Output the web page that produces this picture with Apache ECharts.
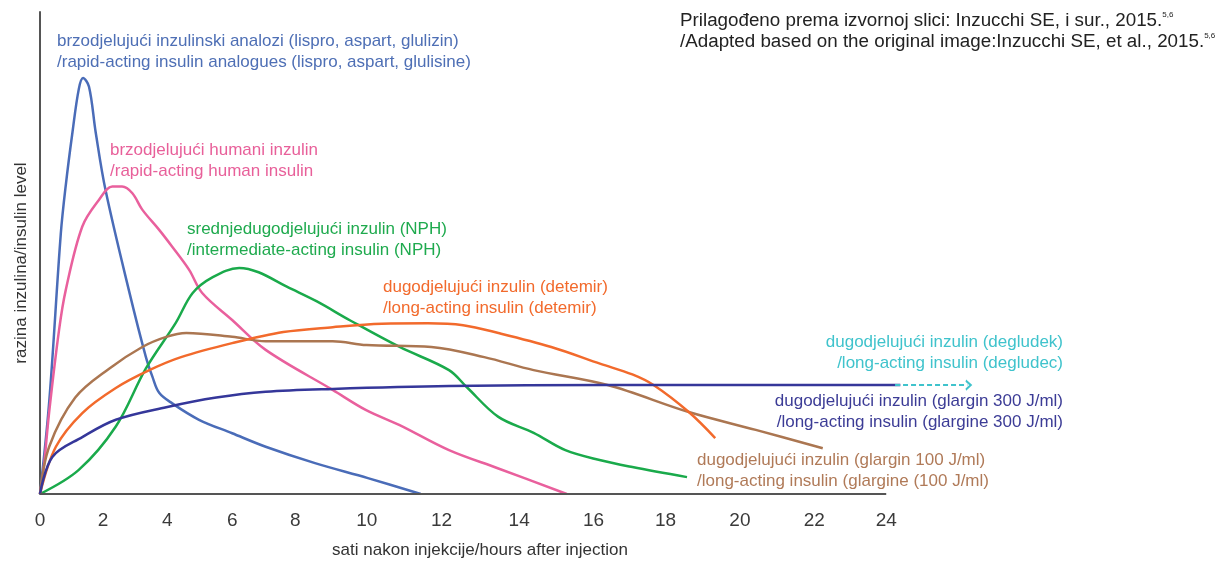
<!DOCTYPE html>
<html>
<head>
<meta charset="utf-8">
<title>Insulin profiles</title>
<script src="https://cdn.jsdelivr.net/npm/echarts@6/dist/echarts.min.js"></script>
<style>
  html, body { margin: 0; padding: 0; background: #fff; }
  #chart { width: 1227px; height: 563px; }
</style>
</head>
<body>
<div id="chart"></div>
<script>
// printed hour labels and where they sit along the drawn axis (the printed labels are not evenly spaced)
const tickLabels = ['0', '2', '4', '6', '8', '10', '12', '14', '16', '18', '20', '22', '24']
const tickPositions = [0, 1.79, 3.61, 5.45, 7.24, 9.27, 11.39, 13.59, 15.7, 17.74, 19.85, 21.96, 24]

// rapid-acting analogues (lispro, aspart, glulisine)
const rapidAnalogX = [0, 0.26, 0.59, 0.73, 0.92, 1.1, 1.22, 1.39, 1.58, 1.86, 2.52, 3.0, 3.19, 3.38, 3.75, 4.51, 5.45, 6.4, 7.8, 9.3, 10.8]
const rapidAnalogLevel = [0, 19, 54, 64, 75, 84, 86.3, 84.5, 75, 63, 42.3, 28.5, 24.3, 21, 18.8, 15.4, 12.6, 9.8, 6.4, 3.3, 0]

// rapid-acting human insulin
const humanX = [0, 0.1, 0.26, 0.54, 0.73, 1.2, 1.67, 2.05, 2.33, 2.62, 2.9, 3.38, 3.75, 4.23, 4.6, 5.45, 6.4, 8.3, 9.25, 10.2, 11.6, 13, 14.94]
const humanLevel = [0, 5, 17, 34, 42.3, 55.5, 61, 63.8, 63.8, 62.4, 59, 54.8, 51.3, 46.5, 41.7, 36.1, 29.9, 21.6, 17.4, 14.3, 9.1, 5.3, 0]

// intermediate-acting insulin (NPH)
const nphX = [0, 1.1, 2.15, 3, 3.85, 4.33, 4.9, 5.65, 6.2, 7, 7.84, 8.8, 10.2, 11.6, 12.1, 13, 14, 14.9, 15.9, 16.8, 18.35]
const nphLevel = [0, 5, 14, 26, 35.5, 41.7, 45, 46.9, 46, 43, 40, 36, 30.5, 25.7, 22.2, 16, 12.7, 9.1, 7, 5.6, 3.5]

// long-acting detemir
const detemirX = [0, 0.45, 1.2, 2.15, 3.1, 4.0, 5.45, 6.9, 8.3, 9.7, 11.0, 12.0, 13, 14.5, 15.9, 16.8, 17.4, 18.4, 19.15]
const detemirLevel = [0, 9.8, 16.8, 22, 25.7, 28.4, 31.3, 33.6, 34.6, 35.3, 35.4, 35, 33.4, 30.5, 27, 24.8, 22.6, 17, 11.6]

// long-acting glargine 100 U/ml
const glargine100X = [0, 0.26, 1.0, 1.96, 2.9, 3.58, 4.15, 5.45, 6.4, 8.3, 9.26, 11.1, 12.6, 14, 16.1, 18.4, 20.3, 22.2]
const glargine100Level = [0, 9.8, 20, 26, 30.5, 32.6, 33.4, 32.6, 31.7, 31.7, 30.9, 30.5, 28.4, 25.7, 22.6, 17, 13.3, 9.5]

// long-acting glargine 300 U/ml
const glargine300X = [0, 0.35, 1.2, 2.15, 3.58, 5, 6.4, 8.3, 11.6, 16, 20, 24.4]
const glargine300Level = [0, 7.7, 11.8, 15.4, 18, 20, 21.2, 21.8, 22.4, 22.6, 22.6, 22.6]

// degludec keeps going past the end of the axis (dashed arrow)
const degludecX = [24.25, 26.3]
const degludecLevel = [22.6, 22.6]

const pairs = (xs, ys) => xs.map((x, i) => [x, ys[i]])

const FONT = "'Liberation Sans', Arial, sans-serif"

function curve (name, color, xs, ys) {
  return {
    name: name,
    type: 'line',
    smooth: 0.35,
    showSymbol: false,
    lineStyle: { color: color, width: 2.5 },
    data: pairs(xs, ys)
  }
}

function label (text, color, x, y, align) {
  return {
    type: 'text',
    x: x,
    y: y,
    style: {
      text: text,
      fill: color,
      font: '17px ' + FONT,
      lineHeight: 21,
      align: align || 'left',
      verticalAlign: 'middle'
    }
  }
}

const chart = echarts.init(document.getElementById('chart'))

const glargine300 = curve('glargine 300', '#35379a', glargine300X, glargine300Level)
// the drawn x axis stops at 24 h, the curves run on a little further
glargine300.markLine = {
  silent: true,
  symbol: ['none', 'none'],
  label: { show: false },
  lineStyle: { color: '#555', width: 2, type: 'solid' },
  data: [[{ coord: [0, 0] }, { coord: [24, 0] }]]
}

const degludec = {
  name: 'degludec',
  type: 'line',
  showSymbol: true,
  lineStyle: { color: '#3fc3cc', width: 2, type: [5, 3] },
  itemStyle: { color: 'transparent', borderColor: '#3fc3cc', borderWidth: 1.8 },
  data: pairs(degludecX, degludecLevel).map((p, i) => ({
    value: p,
    symbol: i === 0 ? 'none' : 'path://M0,0L8,8L0,16',
    symbolSize: [5, 9],
    symbolOffset: [1, 0]
  }))
}

chart.setOption({
  animation: false,
  grid: { left: 40, right: 235, top: 12, bottom: 69 },
  xAxis: {
    type: 'value',
    min: 0,
    max: 27,
    splitLine: { show: false },
    axisTick: { show: false },
    axisLine: { show: false },
    axisLabel: {
      margin: 17,
      fontSize: 19,
      color: '#3a3a3a',
      fontFamily: "'Liberation Sans Narrow', " + FONT,
      customValues: tickPositions,
      formatter: (val) => {
        let best = 0
        tickPositions.forEach((p, i) => {
          if (Math.abs(p - val) < Math.abs(tickPositions[best] - val)) best = i
        })
        return tickLabels[best]
      }
    }
  },
  yAxis: {
    type: 'value',
    min: 0,
    max: 100,
    splitLine: { show: false },
    axisTick: { show: false },
    axisLabel: { show: false },
    axisLine: { show: true, lineStyle: { color: '#555', width: 2 } }
  },
  series: [
    curve('rapid analogues', '#4a6cb8', rapidAnalogX, rapidAnalogLevel),
    curve('human rapid', '#e9609d', humanX, humanLevel),
    curve('NPH', '#1aaa4b', nphX, nphLevel),
    curve('glargine 100', '#ab7651', glargine100X, glargine100Level),
    curve('detemir', '#f26a2c', detemirX, detemirLevel),
    glargine300,
    degludec
  ],
  graphic: [
    label('brzodjelujući inzulinski analozi (lispro, aspart, glulizin)\n/rapid-acting insulin analogues (lispro, aspart, glulisine)', '#4e6fb5', 57, 52),
    label('brzodjelujući humani inzulin\n/rapid-acting human insulin', '#e8609a', 110, 161),
    label('srednjedugodjelujući inzulin (NPH)\n/intermediate-acting insulin (NPH)', '#1faa4e', 187, 240),
    label('dugodjelujući inzulin (detemir)\n/long-acting insulin (detemir)', '#f26a2c', 383, 298),
    label('dugodjelujući inzulin (degludek)\n/long-acting insulin (degludec)', '#3fc3cc', 1063, 353, 'right'),
    label('dugodjelujući inzulin (glargin 300 J/ml)\n/long-acting insulin (glargine 300 J/ml)', '#3c3c96', 1063, 412, 'right'),
    label('dugodjelujući inzulin (glargin 100 J/ml)\n/long-acting insulin (glargine (100 J/ml)', '#b07a58', 697, 471),
    {
      type: 'text',
      x: 680,
      y: 31.5,
      style: {
        text: '{t|Prilagođeno prema izvornoj slici: Inzucchi SE, i sur., 2015.}{s|5,6}\n{t|/Adapted based on the original image:Inzucchi SE, et al., 2015.}{s|5,6}',
        fill: '#222',
        verticalAlign: 'middle',
        rich: {
          t: { fontSize: 18.8, fontFamily: FONT, lineHeight: 21, fill: '#222' },
          s: { fontSize: 8, fontFamily: FONT, verticalAlign: 'top', lineHeight: 21, fill: '#222' }
        }
      }
    },
    {
      type: 'text',
      x: 480,
      y: 550,
      style: {
        text: 'sati nakon injekcije/hours after injection',
        fill: '#333',
        font: '17px ' + FONT,
        align: 'center',
        verticalAlign: 'middle'
      }
    },
    {
      type: 'text',
      x: 21,
      y: 263,
      rotation: Math.PI / 2,
      style: {
        text: 'razina inzulina/insulin level',
        fill: '#333',
        font: '17px ' + FONT,
        align: 'center',
        verticalAlign: 'middle'
      }
    }
  ]
})
</script>
</body>
</html>
